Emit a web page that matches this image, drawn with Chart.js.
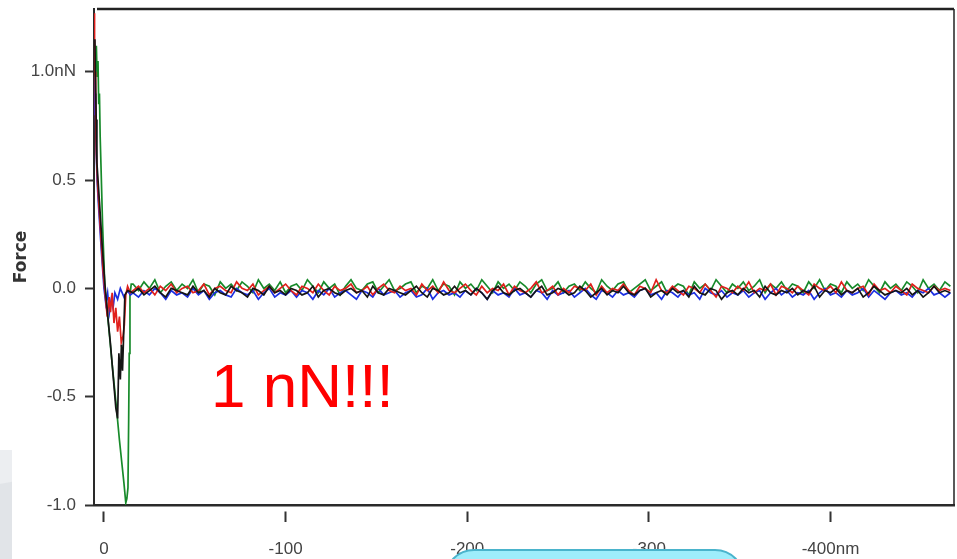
<!DOCTYPE html>
<html>
<head>
<meta charset="utf-8">
<script src="https://cdn.jsdelivr.net/npm/chart.js@4.4.1/dist/chart.umd.min.js"></script>
<style>
  html, body { margin: 0; padding: 0; background: #fff; }
  #wrap { position: relative; width: 957px; height: 559px; overflow: hidden; background: #fff; }
  #forceChart { position: absolute; left: 0; top: 0; }
  #shade { position: absolute; left: 0; top: 450px; width: 12px; height: 109px;
           background: linear-gradient(170deg, #eceef1 0%, #eceef1 30%, #e1e4e8 31%, #e1e4e8 100%); }
  #note { position: absolute; left: 211px; top: 355px; font-family: "Liberation Sans", Arial, sans-serif;
          font-size: 62px; line-height: 62px; color: #ff0000; white-space: nowrap; }
  #bubble { position: absolute; left: 444px; top: 549px; width: 297px; height: 60px;
            background: #9eedfb; border: 2px solid #4ab4cc; border-radius: 30px; }
</style>
</head>
<body>
<div id="wrap">
  <canvas id="forceChart" width="957" height="559"></canvas>
  <div id="shade"></div>
  <div id="note">1 nN!!!</div>
  <div id="bubble"></div>
</div>
<script>
// axis ticks (distance in nm, force in nN)
const xTicks = [0, 100, 200, 300, 400];
const xTickLabels = ['0', '-100', '-200', '-300', '-400nm'];
const yTicks = [-1.0, -0.5, 0.0, 0.5, 1.0];
const yTickLabels = ['-1.0', '-0.5', '0.0', '0.5', '1.0nN'];

// contact / adhesion part of each curve
const blackHeadX = [-5.0, -4.7, -4.3, -3.9, -2.5, -1, 0.5, 2, 3.5, 5, 6.5, 7.5, 8.2, 9, 9.6, 10.2, 10.8, 11.5, 13];
const blackHeadY = [1.15, 0.98, 0.78, 0.58, 0.4, 0.2, 0.02, -0.12, -0.25, -0.4, -0.55, -0.6, -0.3, -0.42, -0.26, -0.38, -0.22, -0.03, -0.01];
const redHeadX = [-5.4, -5.2, -4.9, -4.6, -4.2, -3.5, -2, -0.5, 0.8, 1.8, 2.8, 3.6, 4.5, 5.5, 6.5, 7.5, 8.5, 9.5, 10.5, 11.2, 12, 13, 14.5];
const redHeadY = [1.27, 1.15, 1.0, 0.8, 0.62, 0.48, 0.28, 0.08, -0.04, -0.13, -0.04, -0.11, -0.02, -0.16, -0.09, -0.2, -0.13, -0.25, -0.22, -0.17, -0.03, 0.01, -0.02];
const blueHeadX = [-5.3, -5.0, -4.8, -4.5, -4.2, -3.8, -3, -1.5, 0, 1, 2, 3, 4, 5, 6, 7.5, 9, 11, 13, 14.5];
const blueHeadY = [0.98, 0.8, 0.9, 0.7, 0.62, 0.5, 0.38, 0.18, 0.0, -0.07, -0.02, -0.11, -0.05, -0.09, -0.02, -0.05, 0.0, -0.04, -0.01, -0.03];
const greenHeadX = [-4.2, -3.8, -3.3, -2.9, -2.5, -2.1, -1.6, -0.8, 0.5, 2.5, 4.5, 6.5, 8.5, 10, 11, 12, 12.6, 13.2, 13.6, 13.9, 14.3, 15];
const greenHeadY = [1.12, 0.98, 1.05, 0.85, 0.9, 0.7, 0.55, 0.3, 0.0, -0.17, -0.35, -0.52, -0.7, -0.82, -0.9, -0.99, -0.97, -0.92, -0.6, -0.3, -0.03, 0.02];

// free (non-contact) part, shared distances
const tailX = [16,19,22,25,28,31,34,37,40,43,46,49,52,55,58,61,64,67,70,73,76,79,82,85,88,91,94,97,100,103,
  106,109,112,115,118,121,124,127,130,133,136,139,142,145,148,151,154,157,160,163,166,169,172,175,178,181,184,187,190,193,
  196,199,202,205,208,211,214,217,220,223,226,229,232,235,238,241,244,247,250,253,256,259,262,265,268,271,274,277,280,283,
  286,289,292,295,298,301,304,307,310,313,316,319,322,325,328,331,334,337,340,343,346,349,352,355,358,361,364,367,370,373,
  376,379,382,385,388,391,394,397,400,403,406,409,412,415,418,421,424,427,430,433,436,439,442,445,448,451,454,457,460,463,466];

const blackTail = [-.02,0,-.03,-.01,.01,-.02,-.04,0,-.01,-.02, -.03,.01,-.02,-.01,-.04,0,-.02,-.03,.01,-.01,
  -.02,-.04,0,-.01,-.03,.01,-.02,-.01,-.03,0, -.01,-.03,-.02,.01,-.04,-.01,0,-.02,-.03,-.01,
  0,-.02,-.01,-.04,.01,-.02,-.03,0,-.01,-.02, -.03,-.01,.01,-.02,-.04,0,-.01,-.03,-.02,.01,
  -.02,-.01,-.03,0,-.02,-.05,-.01,.01,-.02,-.03, -.01,0,-.02,-.04,-.01,.01,-.03,-.02,0,-.01,
  -.03,-.02,.01,-.01,-.04,-.02,0,-.03,-.01,-.02, .01,-.02,-.03,-.01,0,-.04,-.02,-.01,-.03,0,
  -.02,-.01,-.04,.01,-.02,-.03,0,-.01,-.05,-.02, -.01,-.03,0,-.02,-.01,-.04,.01,-.02,-.03,-.01,
  -.02,0,-.03,-.01,-.02,.01,-.04,-.01,-.02,0, -.03,-.01,-.02,0,-.04,-.02,.01,-.01,-.03,-.02,
  -.01,-.02,0,-.03,-.01,-.04,-.02,.01,-.02,-.01, -.02];
const redTail = [-.01,.01,-.02,0,-.03,.01,-.01,.02,-.02,0, .01,-.02,-.01,.02,-.03,0,.01,-.01,-.02,.03,
  0,-.01,.02,-.03,-.01,.01,-.02,0,.02,-.01, -.03,.01,0,-.02,.02,-.01,-.03,.01,-.01,0,
  .02,-.02,-.01,.01,-.03,0,.02,-.01,-.02,.01, -.01,0,-.03,.02,-.01,.01,-.02,.03,-.01,-.02,
  0,.02,-.01,-.03,.01,-.02,0,-.01,.02,-.03, .01,-.01,-.02,0,.03,-.02,-.01,.01,-.03,0,
  -.02,.01,0,-.01,.02,-.03,.01,-.02,0,-.01, .02,-.01,-.03,.01,0,-.02,.04,-.01,-.02,.01,
  -.01,-.03,.01,0,-.02,.02,-.01,-.04,.01,0, -.02,.01,-.01,.03,-.02,0,-.01,.02,-.03,.01,
  0,-.02,.01,-.01,-.03,.02,0,-.01,.01,-.02, .03,-.01,-.02,0,.01,-.03,.02,-.01,0,-.02,
  .01,-.01,-.03,.02,0,-.01,-.02,.01,-.01,0, -.01];
const blueTail = [-.02,-.04,-.01,-.03,0,-.02,-.05,-.01,-.03,-.02, -.04,0,-.03,-.01,-.05,-.02,-.01,-.03,-.04,0,
  -.02,-.03,-.01,-.05,-.02,0,-.04,-.02,-.03,-.01, -.04,-.01,-.02,-.05,-.01,-.03,0,-.04,-.02,-.01,
  -.03,-.05,-.01,-.02,-.04,0,-.03,-.02,-.01,-.04, -.02,-.01,-.04,-.03,0,-.05,-.02,-.01,-.03,-.02,
  -.04,-.01,-.03,0,-.02,-.05,-.01,-.03,-.02,-.04, 0,-.03,-.02,-.04,-.01,-.02,-.05,-.01,-.03,-.02,
  -.01,-.04,-.02,0,-.03,-.05,-.01,-.02,-.04,-.01, -.03,-.02,-.04,-.01,0,-.03,-.02,-.05,-.01,-.02,
  -.04,-.01,-.03,-.02,-.05,0,-.02,-.03,-.01,-.04, -.02,-.03,-.01,-.04,-.02,-.01,-.05,-.02,0,-.03,
  -.01,-.04,-.02,-.03,-.01,-.05,-.02,0,-.03,-.02, -.04,-.01,-.03,-.02,0,-.04,-.01,-.03,-.05,-.02,
  -.01,-.03,-.02,-.04,-.01,-.02,0,-.03,-.02,-.04, -.02];
const greenTail = [.02,-.01,.03,0,.04,-.02,.01,.03,-.01,.02, 0,.04,-.02,.02,.01,-.03,.03,0,.02,-.01,
  .03,.01,-.02,.04,0,.02,-.01,.03,-.02,.01, .02,-.01,.04,.01,-.02,.03,0,.02,-.03,.01,
  .04,0,-.01,.02,.03,-.02,.01,.04,-.01,0, .02,.03,-.02,.01,0,.04,-.01,.02,.01,-.03,
  .03,0,.02,-.01,.04,.01,-.02,.03,0,.02, -.01,.03,.01,-.02,.02,.04,-.01,0,.03,-.02,
  .01,.02,-.01,.03,0,-.02,.04,.01,-.01,.02, .03,-.02,0,.02,.04,-.01,.01,.03,-.02,0,
  .02,.01,-.03,.03,0,.02,-.01,.04,.01,-.02, .02,0,.03,-.01,.01,.04,-.02,.02,0,.03,
  -.01,.02,.01,-.02,.03,0,.04,-.01,.02,.01, -.02,.03,0,.02,-.01,.04,.01,-.02,.03,0,
  .02,-.01,.03,.01,-.02,.04,0,.02,-.01,.03, .01];

function toPoints(headX, headY, tailY) {
    const pts = headX.map((x, i) => ({ x: x, y: headY[i] }));
    tailX.forEach((x, i) => pts.push({ x: x, y: tailY[i] }));
    return pts;
}

const tickFont = { family: "'Liberation Sans Narrow', 'Arial Narrow', 'Liberation Sans', sans-serif", size: 17 };

// top and right sides of the plot frame
const framePlugin = {
    id: 'frame',
    afterDatasetsDraw(chart) {
        const ctx = chart.ctx;
        const a = chart.chartArea;
        ctx.save();
        ctx.strokeStyle = '#222';
        ctx.lineWidth = 2.5;
        ctx.beginPath();
        ctx.moveTo(a.left + 3, a.top);
        ctx.lineTo(a.right, a.top);
        ctx.stroke();
        ctx.lineWidth = 1.5;
        ctx.beginPath();
        ctx.moveTo(a.right, a.top);
        ctx.lineTo(a.right, a.bottom);
        ctx.stroke();
        ctx.restore();
    }
};

const ctx = document.getElementById('forceChart').getContext('2d');
const forceChart = new Chart(ctx, {
    type: 'line',
    data: {
        datasets: [
            { label: 'black', data: toPoints(blackHeadX, blackHeadY, blackTail), borderColor: '#151515' },
            { label: 'red', data: toPoints(redHeadX, redHeadY, redTail), borderColor: '#e0201c' },
            { label: 'blue', data: toPoints(blueHeadX, blueHeadY, blueTail), borderColor: '#1c2fe0' },
            { label: 'green', data: toPoints(greenHeadX, greenHeadY, greenTail), borderColor: '#178a2a' }
        ]
    },
    options: {
        responsive: false,
        animation: false,
        elements: {
            point: { radius: 0 },
            line: { borderWidth: 1.7, tension: 0 }
        },
        layout: { padding: { top: 9, right: 3, left: 0, bottom: 0 } },
        plugins: {
            legend: { display: false },
            tooltip: { enabled: false }
        },
        scales: {
            x: {
                type: 'linear',
                min: -5.5,
                max: 468,
                afterBuildTicks: s => { s.ticks = xTicks.map(v => ({ value: v })); },
                afterFit: s => { s.height = 54; s.paddingLeft = 0; s.paddingRight = 0; },
                border: { color: '#2a2a2a', width: 2.5 },
                grid: { drawOnChartArea: false, tickLength: 17, tickColor: '#333', tickWidth: 2, tickBorderDash: [0, 5, 20] },
                ticks: {
                    callback: (v, i) => xTickLabels[i],
                    font: tickFont,
                    color: '#444',
                    padding: 17,
                    maxRotation: 0,
                    autoSkip: false
                }
            },
            y: {
                min: -1.0,
                max: 1.29,
                afterBuildTicks: s => { s.ticks = yTicks.map(v => ({ value: v })); },
                afterFit: s => { s.width = 94; s.paddingTop = 0; s.paddingBottom = 0; },
                border: { color: '#2a2a2a', width: 2 },
                grid: { drawOnChartArea: false, tickLength: 9, tickColor: '#333', tickWidth: 2 },
                ticks: {
                    callback: (v, i) => yTickLabels[i],
                    font: tickFont,
                    color: '#444',
                    padding: 9,
                    autoSkip: false
                },
                title: {
                    display: true,
                    text: 'Force',
                    font: { family: "'DejaVu Sans', sans-serif", size: 17, weight: 'bold' },
                    color: '#333',
                    padding: { top: 11, bottom: 0 }
                }
            }
        }
    },
    plugins: [framePlugin]
});
</script>
</body>
</html>
